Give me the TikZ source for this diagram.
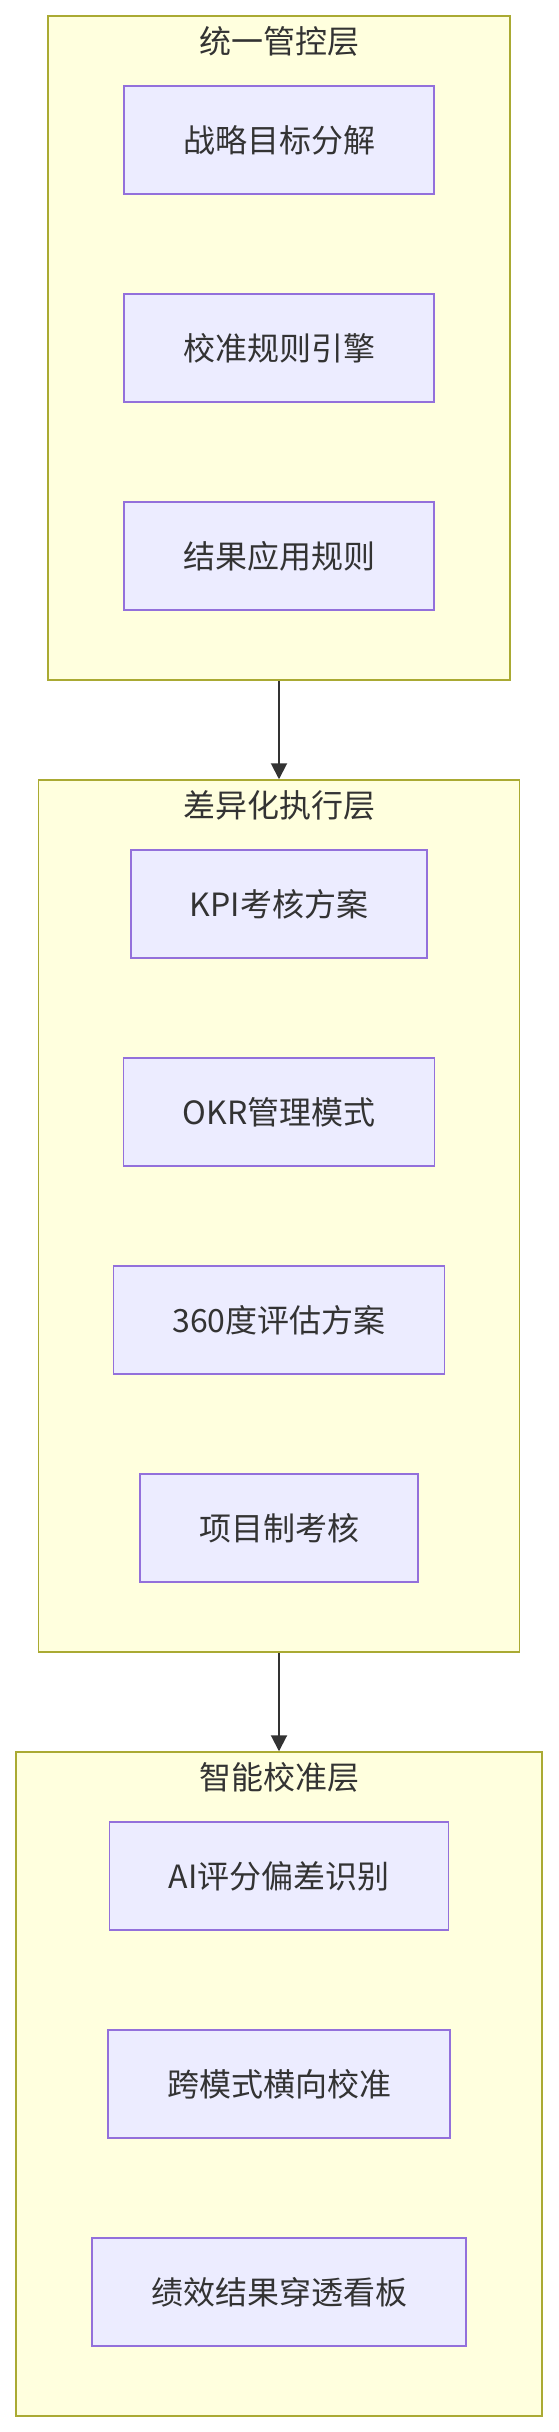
\documentclass[tikz,border=0pt]{standalone}
\usepackage{fontspec}
\setmainfont{Noto Sans CJK SC}
\usetikzlibrary{arrows.meta}
\definecolor{boxfill}{HTML}{ECECFF}
\definecolor{boxline}{HTML}{9370DB}
\definecolor{layerfill}{HTML}{FFFFDE}
\definecolor{layerline}{HTML}{AAAA33}
\definecolor{ink}{HTML}{333333}
\begin{document}
\begin{tikzpicture}[x=1pt,y=-1pt,
  layer/.style={rectangle,draw=layerline,fill=layerfill,line width=1.5pt,inner sep=0pt},
  item/.style={rectangle,draw=boxline,fill=boxfill,line width=1.5pt,minimum height=108pt,inner xsep=59pt,text=ink,font=\fontsize{32}{38}\selectfont},
  title/.style={text=ink,font=\fontsize{32}{38}\selectfont},
  link/.style={-{Triangle[width=16pt,length=16pt]},draw=ink,line width=2pt}]
\useasboundingbox (0,0) rectangle (558,2432);
\node[layer,minimum width=462pt,minimum height=664pt] (ctrl) at (279,348) {};
\node[layer,minimum width=481pt,minimum height=872pt] (exec) at (279,1216) {};
\node[layer,minimum width=526pt,minimum height=664pt] (calib) at (279,2084) {};
\node[title] (ctrltitle) at (279,41) {统一管控层};
\node[title] (exectitle) at (279,805) {差异化执行层};
\node[title] (calibtitle) at (279,1777) {智能校准层};
\node[item] (goal) at (279,140) {战略目标分解};
\node[item] (rules) at (279,348) {校准规则引擎};
\node[item] (apply) at (279,556) {结果应用规则};
\node[item] (kpi) at (279,904) {KPI考核方案};
\node[item] (okr) at (279,1112) {OKR管理模式};
\node[item] (deg) at (279,1320) {360度评估方案};
\node[item] (proj) at (279,1528) {项目制考核};
\node[item] (ai) at (279,1876) {AI评分偏差识别};
\node[item] (cross) at (279,2084) {跨模式横向校准};
\node[item] (board) at (279,2292) {绩效结果穿透看板};
\draw[link] (ctrl) -- (exec);
\draw[link] (exec) -- (calib);
\end{tikzpicture}
\end{document}
